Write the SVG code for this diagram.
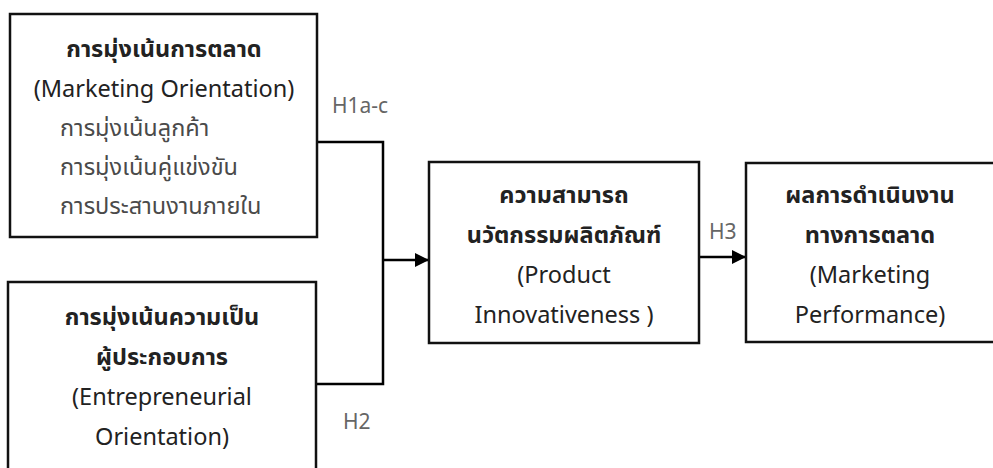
<svg xmlns="http://www.w3.org/2000/svg" width="993" height="468" viewBox="0 0 993 468">
<defs>
<marker id="ah" viewBox="0 0 10 10" refX="10" refY="5" markerWidth="14" markerHeight="14" markerUnits="userSpaceOnUse" orient="auto">
<path d="M0,0 L10,5 L0,10 z" fill="#000"/>
</marker>
<style>
.box{fill:#fff;stroke:#111;stroke-width:2.5}
.t{font-family:"Noto Sans Thai","Noto Sans","Tahoma","DejaVu Sans",sans-serif;font-size:23.5px;fill:#222;text-anchor:middle}
.b{font-weight:bold}
.s{font-family:"Noto Sans Thai","Noto Sans","DejaVu Sans",sans-serif;font-size:23.5px;fill:#4a4a4a}
.lbl{font-family:"Noto Sans","DejaVu Sans",sans-serif;font-size:21px;fill:#666}
.ln{fill:none;stroke:#000;stroke-width:2.5}
</style>
</defs>
<rect width="993" height="468" fill="#fff"/>
<g id="connectors">
<polyline class="ln" points="317,142 383,142 383,384 316,384"/>
<line class="ln" x1="383" y1="260" x2="429" y2="260" marker-end="url(#ah)"/>
<line class="ln" x1="699" y1="257" x2="746" y2="257" marker-end="url(#ah)"/>
<text class="lbl" x="332" y="113">H1a-c</text>
<text class="lbl" x="343" y="429">H2</text>
<text class="lbl" x="709" y="239">H3</text>
</g>
<g id="marketing-orientation">
<rect class="box" x="10" y="14" width="307" height="223"/>
<text class="t b" x="164" y="57">การมุ่งเน้นการตลาด</text>
<text class="t" x="164" y="97">(Marketing Orientation)</text>
<text class="s" x="60" y="136">การมุ่งเน้นลูกค้า</text>
<text class="s" x="60" y="175">การมุ่งเน้นคู่แข่งขัน</text>
<text class="s" x="60" y="214">การประสานงานภายใน</text>
</g>
<g id="entrepreneurial-orientation">
<rect class="box" x="8" y="282" width="308" height="200"/>
<text class="t b" x="162" y="325">การมุ่งเน้นความเป็น</text>
<text class="t b" x="162" y="365">ผู้ประกอบการ</text>
<text class="t" x="162" y="405">(Entrepreneurial</text>
<text class="t" x="162" y="445">Orientation)</text>
</g>
<g id="product-innovativeness">
<rect class="box" x="429" y="162" width="270" height="181"/>
<text class="t b" x="564" y="203">ความสามารถ</text>
<text class="t b" x="564" y="243">นวัตกรรมผลิตภัณฑ์</text>
<text class="t" x="564" y="283">(Product</text>
<text class="t" x="564" y="323">Innovativeness )</text>
</g>
<g id="marketing-performance">
<rect class="box" x="746" y="163" width="260" height="179"/>
<text class="t b" x="870" y="203">ผลการดำเนินงาน</text>
<text class="t b" x="870" y="243">ทางการตลาด</text>
<text class="t" x="870" y="283">(Marketing</text>
<text class="t" x="870" y="323">Performance)</text>
</g>
</svg>
